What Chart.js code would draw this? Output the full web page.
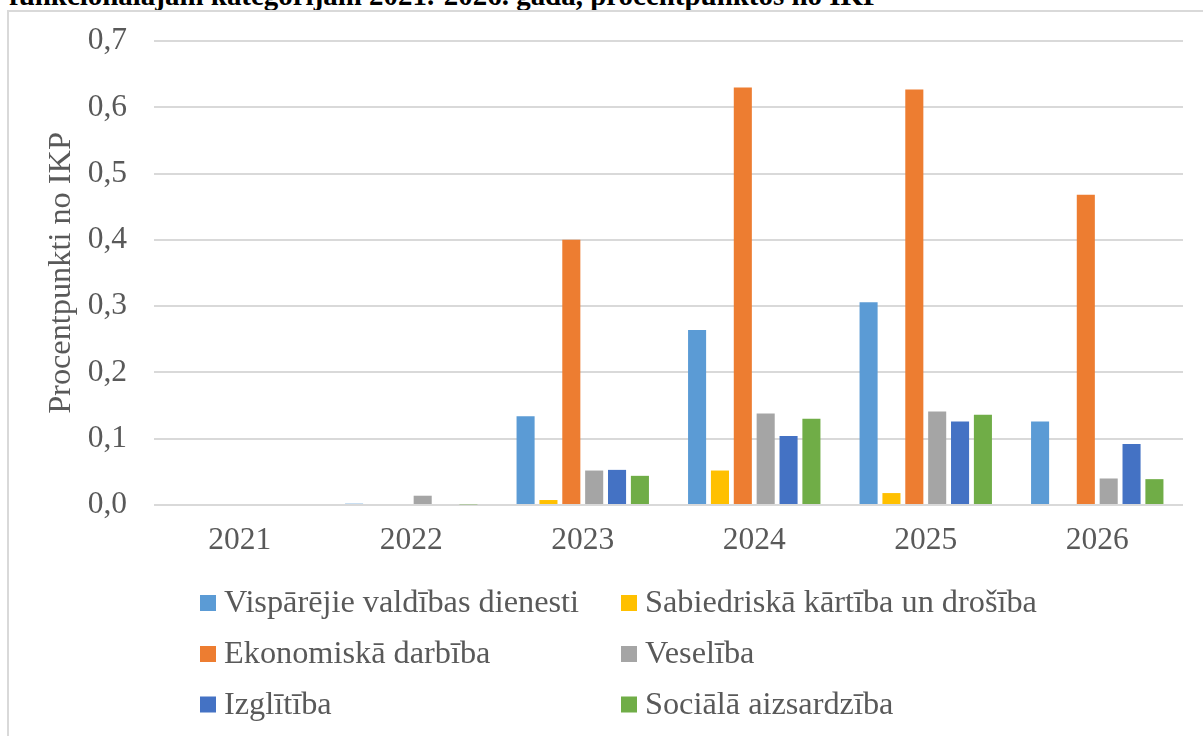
<!DOCTYPE html>
<html>
<head>
<meta charset="utf-8">
<script src="https://cdn.jsdelivr.net/npm/chart.js@4/dist/chart.umd.min.js"></script>
<style>
  html, body { margin: 0; padding: 0; background: #ffffff; overflow: hidden; width: 1203px; height: 736px; }
  #frame { position: absolute; left: 7px; top: 10px; width: 1300px; height: 800px; border: 2px solid #d9d9d9; box-sizing: border-box; }
  #title { position: absolute; left: 9px; top: -17px; font-family: 'Liberation Serif', 'Times New Roman', serif; font-weight: bold; font-size: 26px; line-height: 26px; color: #000; white-space: nowrap; }
  #c { position: absolute; left: 0; top: 0; }
</style>
</head>
<body>
<div id="title">funkcionālajām kategorijām 2021.-2026. gadā, procentpunktos no IKP</div>
<div id="frame"></div>
<canvas id="c" width="1203" height="736"></canvas>
<script>
const categories = ['2021', '2022', '2023', '2024', '2025', '2026'];
const seriesNames = [
  'Vispārējie valdības dienesti',
  'Sabiedriskā kārtība un drošība',
  'Ekonomiskā darbība',
  'Veselība',
  'Izglītība',
  'Sociālā aizsardzība'
];
const generalServices = [0, 0.002, 0.134, 0.264, 0.306, 0.126];
const publicOrder     = [0, 0, 0.0075, 0.052, 0.018, 0];
const economic        = [0, 0, 0.400, 0.630, 0.627, 0.468];
const health          = [0, 0.014, 0.052, 0.138, 0.141, 0.040];
const education       = [0, 0, 0.053, 0.104, 0.126, 0.092];
const social          = [0, 0.001, 0.044, 0.130, 0.136, 0.039];
const yTicks = [0, 0.1, 0.2, 0.3, 0.4, 0.5, 0.6, 0.7];
const yAxisTitle = 'Procentpunkti no IKP';

const colors = ['#5B9BD5', '#FFC000', '#ED7D31', '#A5A5A5', '#4472C4', '#70AD47'];
const seriesValues = [generalServices, publicOrder, economic, health, education, social];
const FONT = "'Liberation Serif', 'Times New Roman', serif";
const TEXT = '#595959';

// fit title width to the reference
(function(){
  const t = document.getElementById('title');
  const w = t.getBoundingClientRect().width;
  const target = 872;
  const fs = 26 * target / w;
  t.style.fontSize = fs.toFixed(2) + 'px';
  t.style.lineHeight = fs.toFixed(2) + 'px';
  t.style.top = (5 - 0.8375 * fs).toFixed(1) + 'px';
})();

const gridLegend = {
  id: 'gridLegend',
  afterDraw(chart) {
    const ctx = chart.ctx;
    const colX = [200, 621];
    const rowY = [603, 654, 704.5];
    const box = 16;
    ctx.save();
    ctx.font = '32.3px ' + FONT;
    ctx.textBaseline = 'middle';
    ctx.textAlign = 'left';
    chart.data.datasets.forEach((ds, i) => {
      const x = colX[i % 2];
      const y = rowY[Math.floor(i / 2)];
      ctx.fillStyle = ds.backgroundColor;
      ctx.fillRect(x, y - box / 2, box, box);
      ctx.fillStyle = TEXT;
      ctx.fillText(ds.label, x + 24, y + 1);
    });
    ctx.restore();
  }
};

new Chart(document.getElementById('c'), {
  type: 'bar',
  data: {
    labels: categories,
    datasets: seriesNames.map((n, i) => ({
      label: n,
      data: seriesValues[i],
      backgroundColor: colors[i],
      borderWidth: 0,
      categoryPercentage: 0.8,
      barPercentage: 0.79
    }))
  },
  options: {
    responsive: false,
    animation: false,
    devicePixelRatio: 1,
    layout: { padding: { left: 0, top: 41, right: 20, bottom: 0 } },
    plugins: {
      legend: { display: false },
      tooltip: { enabled: false },
      title: { display: false }
    },
    scales: {
      x: {
        grid: { display: false, drawTicks: false },
        border: { display: false },
        ticks: { color: TEXT, font: { family: FONT, size: 31.5 }, padding: 17, maxRotation: 0 },
        afterFit: (s) => { s.height = 736 - 505; }
      },
      y: {
        min: 0,
        max: 0.7,
        afterBuildTicks: (s) => { s.ticks = yTicks.map(v => ({ value: v })); },
        grid: { color: '#d9d9d9', lineWidth: 2, drawTicks: false },
        border: { display: false },
        ticks: {
          color: TEXT,
          font: { family: FONT, size: 31.5 },
          padding: 27,
          callback: (v) => Number(v).toFixed(1).replace('.', ',')
        },
        title: {
          display: true,
          text: yAxisTitle,
          color: TEXT,
          font: { family: FONT, size: 32.3, weight: 'normal' },
          padding: { top: 42.5, bottom: 0 }
        },
        afterFit: (s) => { s.width = 154; s.paddingTop = 0; s.paddingBottom = 0; }
      }
    }
  },
  plugins: [gridLegend]
});
</script>
</body>
</html>
